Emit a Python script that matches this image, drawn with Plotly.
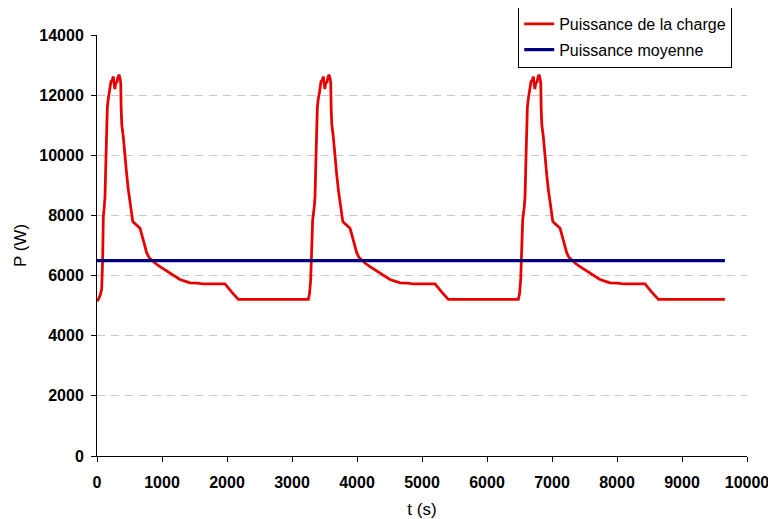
import plotly.graph_objects as go

t_charge = [
    0, 20, 50, 72, 87, 97, 112, 123, 133, 146, 159, 175, 190, 215, 235, 250, 262, 275, 290, 305,
    322, 338, 355, 365, 372, 382, 405, 431, 455, 482, 510, 534, 550, 569, 610, 662, 690, 713, 740,
    764, 800, 841, 900, 969, 1050, 1123, 1200, 1270, 1328, 1431, 1550, 1640, 1892, 1969, 2070, 2174,
    3251, 3270, 3287, 3303, 3318, 3343, 3354, 3364, 3377, 3390, 3406, 3421, 3446, 3466, 3481, 3493,
    3506, 3521, 3536, 3553, 3569, 3586, 3596, 3603, 3613, 3636, 3662, 3686, 3713, 3741, 3765, 3781,
    3800, 3841, 3893, 3921, 3944, 3971, 3995, 4031, 4072, 4131, 4200, 4281, 4354, 4431, 4501, 4559,
    4662, 4781, 4871, 5123, 5200, 5301, 5405,
    6482, 6501, 6518, 6534, 6549, 6574, 6585, 6595, 6608, 6621, 6637, 6652, 6677, 6697, 6712, 6724,
    6737, 6752, 6767, 6784, 6800, 6817, 6827, 6834, 6844, 6867, 6893, 6917, 6944, 6972, 6996, 7012,
    7031, 7072, 7124, 7152, 7175, 7202, 7226, 7262, 7303, 7362, 7431, 7512, 7585, 7662, 7732, 7790,
    7893, 8012, 8102, 8354, 8431, 8532, 8636, 9660,
]
p_charge = [
    5150, 5200, 5350, 5550, 6550, 7950, 8300, 8620, 9500, 10700, 11600, 11900, 12060, 12450, 12500,
    12620, 12400, 12200, 12450, 12400, 12600, 12680, 12550, 12400, 11500, 11000, 10600, 9850, 9400,
    8850, 8400, 8070, 7800, 7760, 7680, 7570, 7350, 7180, 6950, 6760, 6600, 6520, 6400, 6300, 6180,
    6080, 5960, 5880, 5830, 5760, 5750, 5720, 5720, 5720, 5460, 5210,
    5210, 5400, 5850, 6740, 7850, 8300, 8620, 9500, 10700, 11600, 11900, 12060, 12450, 12500, 12620,
    12400, 12200, 12450, 12400, 12600, 12680, 12550, 12400, 11500, 11000, 10600, 9850, 9400, 8850,
    8400, 8070, 7800, 7760, 7680, 7570, 7350, 7180, 6950, 6760, 6600, 6520, 6400, 6300, 6180, 6080,
    5960, 5880, 5830, 5760, 5750, 5720, 5720, 5720, 5460, 5210,
    5210, 5400, 5850, 6740, 7850, 8300, 8620, 9500, 10700, 11600, 11900, 12060, 12450, 12500, 12620,
    12400, 12200, 12450, 12400, 12600, 12680, 12550, 12400, 11500, 11000, 10600, 9850, 9400, 8850,
    8400, 8070, 7800, 7760, 7680, 7570, 7350, 7180, 6950, 6760, 6600, 6520, 6400, 6300, 6180, 6080,
    5960, 5880, 5830, 5760, 5750, 5720, 5720, 5720, 5460, 5210, 5210,
]
t_moyenne = [0, 9660]
p_moyenne = [6500, 6500]

x_ticks = [0, 1000, 2000, 3000, 4000, 5000, 6000, 7000, 8000, 9000, 10000]
y_ticks = [0, 2000, 4000, 6000, 8000, 10000, 12000, 14000]

fig = go.Figure()
fig.add_trace(go.Scatter(x=t_charge, y=p_charge, mode="lines",
                         name="Puissance de la charge", legendgroup="a",
                         line=dict(color="#e60000", width=2.75)))
fig.add_trace(go.Scatter(x=t_moyenne, y=p_moyenne, mode="lines",
                         name="Puissance moyenne", legendgroup="b",
                         line=dict(color="#000080", width=3.25)))

axis_font = dict(family="Liberation Sans, Arial", size=16, color="black")
fig.update_layout(
    width=768, height=511,
    margin=dict(l=89, r=29, t=27, b=63, autoexpand=False),
    paper_bgcolor="white", plot_bgcolor="white",
    font=dict(family="Liberation Sans, Arial", size=16, color="black"),
    showlegend=True,
    legend=dict(x=0.648, y=1.0689, xanchor="left", yanchor="top",
                bordercolor="black", borderwidth=1, bgcolor="white",
                font=dict(family="Liberation Sans, Arial", size=16),
                tracegroupgap=2, itemwidth=30),
    xaxis=dict(range=[0, 10000], tickvals=x_ticks,
               ticktext=[f"<b>{v}</b>" for v in x_ticks],
               showgrid=False, zeroline=False, automargin=False,
               showline=True, linecolor="black", linewidth=1,
               ticks="outside", ticklen=5, tickcolor="black",
               tickfont=axis_font, ticklabelstandoff=7,
               ticklabeloverflow="allow",
               title=dict(text="t (s)", font=dict(size=17), standoff=14)),
    yaxis=dict(range=[0, 14000], tickvals=y_ticks,
               ticktext=[f"<b>{v}</b>" for v in y_ticks],
               showgrid=True, gridcolor="#c8c8c8", griddash="8px,6px", gridwidth=1,
               zeroline=False, automargin=False,
               showline=True, linecolor="black", linewidth=1,
               ticks="outside", ticklen=5, tickcolor="black",
               tickfont=axis_font, ticklabelstandoff=4,
               ticklabeloverflow="allow",
               title=dict(text="P (W)", font=dict(size=17), standoff=8)),
)

fig.write_html("out.html")
